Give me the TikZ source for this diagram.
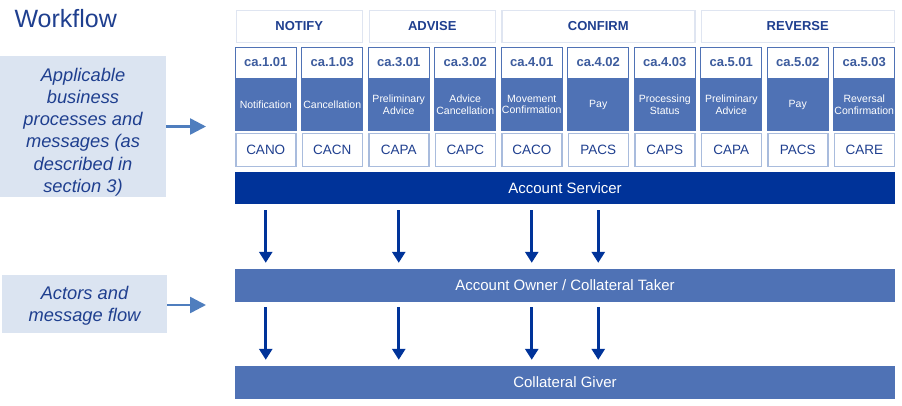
\documentclass[tikz,border=0pt]{standalone}
\usepackage{fontspec}
\setmainfont{Liberation Sans}
\usetikzlibrary{arrows.meta,positioning}
\definecolor{wfDark}{HTML}{1F3F8F}
\definecolor{wfCode}{HTML}{3D5C9E}
\definecolor{wfMid}{HTML}{4F72B5}
\definecolor{wfNavy}{HTML}{003399}
\definecolor{wfPale}{HTML}{DBE4F1}
\definecolor{wfLine}{HTML}{A9BCDD}
\definecolor{wfFrame}{HTML}{DFE5F1}
\definecolor{wfArrow}{HTML}{4F7EBE}
\begin{document}
\begin{tikzpicture}[x=1pt, y=-1pt,
    hdrbox/.style={draw=wfFrame, line width=1.5pt, fill=white, inner sep=0pt, minimum height=32pt,
        text=wfDark, font=\fontsize{13}{15}\selectfont\bfseries},
    codebox/.style={draw=wfMid, line width=1pt, fill=white, inner sep=0pt, minimum width=61pt,
        minimum height=31pt, text=wfCode, font=\fontsize{13}{15}\selectfont\bfseries},
    actbox/.style={draw=wfMid, line width=1pt, fill=wfMid, inner sep=0pt, minimum width=61pt,
        minimum height=51pt, text=white, align=center, font=\fontsize{10.5}{11.7}\selectfont},
    msgbox/.style={draw=wfLine, line width=1.5pt, fill=white, inner sep=0pt, minimum width=60pt,
        minimum height=33pt, text=wfDark, font=\fontsize{13.5}{15}\selectfont},
    bar/.style={inner sep=0pt, minimum width=660pt, minimum height=32pt, text=white,
        font=\fontsize{15}{17}\selectfont},
    notebox/.style={fill=wfPale, inner sep=0pt},
    notetext/.style={inner sep=0pt, text=wfDark, align=center,
        font=\fontsize{18.3}{22.2}\selectfont\itshape},
    downarrow/.style={draw=wfNavy, line width=3.3pt, -{Triangle[width=13pt,length=11pt]},
        shorten <=6pt, shorten >=6pt},
    sidearrow/.style={draw=wfArrow, line width=2.5pt, -{Triangle[width=16pt,length=16pt]}}]
  \useasboundingbox (0,0) rectangle (902,405);

  \node[anchor=base west, text=wfDark, font=\fontsize{25}{27}\selectfont] (title) at (11,27) {Workflow};

  \node[notebox, minimum width=166pt, minimum height=141pt] (procs) at (83,126.5) {};
  \node[notetext] (procsText) at (83,132)
      {Applicable\\business\\processes and\\messages (as\\described in\\section 3)};
  \node[notebox, minimum width=165pt, minimum height=58pt] (actors) at (84.5,304) {};
  \node[notetext] (actorsText) at (84.5,306) {Actors and\\message flow};
  \coordinate (procsTip) at (206,126.5);
  \coordinate (actorsTip) at (206,305);
  \draw[sidearrow] (procs.east) -- (procsTip);
  \draw[sidearrow] (actors.east |- actorsTip) -- (actorsTip);

  \node[hdrbox, minimum width=126pt] (notify) at (299.25,26.5) {NOTIFY};
  \node[hdrbox, minimum width=126pt] (advise) at (432.25,26.5) {ADVISE};
  \node[hdrbox, minimum width=193pt] (confirm) at (598.25,26.5) {CONFIRM};
  \node[hdrbox, minimum width=193pt] (reverse) at (797.75,26.5) {REVERSE};

  \foreach \c/\t/\m [count=\i from 0] in {ca.1.01/Notification/CANO, ca.1.03/Cancellation/CACN,
      ca.3.01/{Preliminary\\Advice}/CAPA, ca.3.02/{Advice\\Cancellation}/CAPC,
      ca.4.01/{Movement\\Confirmation}/CACO, ca.4.02/Pay/PACS, ca.4.03/{Processing\\Status}/CAPS,
      ca.5.01/{Preliminary\\Advice}/CAPA, ca.5.02/Pay/PACS, ca.5.03/{Reversal\\Confirmation}/CARE} {
    \pgfmathsetmacro\x{265.75+66.5*\i}
    \node[actbox] (act\i) at (\x,104.5) {\t};
    \node[codebox, above=0pt of act\i] (code\i) {\c};
    \node[msgbox] (msg\i) at (\x,150) {\m};
  }

  \node[bar, fill=wfNavy] (servicer) at (565,188) {Account Servicer};
  \node[bar, fill=wfMid, minimum height=33pt] (owner) at (565,285.5) {Account Owner / Collateral Taker};
  \node[bar, fill=wfMid, minimum height=33pt] (giver) at (565,382.5) {Collateral Giver};

  \foreach \i in {0,2,4,5} {
    \draw[downarrow] (servicer.south -| msg\i) -- (owner.north -| msg\i);
    \draw[downarrow, shorten <=5pt] (owner.south -| msg\i) -- (giver.north -| msg\i);
  }
\end{tikzpicture}
\end{document}
